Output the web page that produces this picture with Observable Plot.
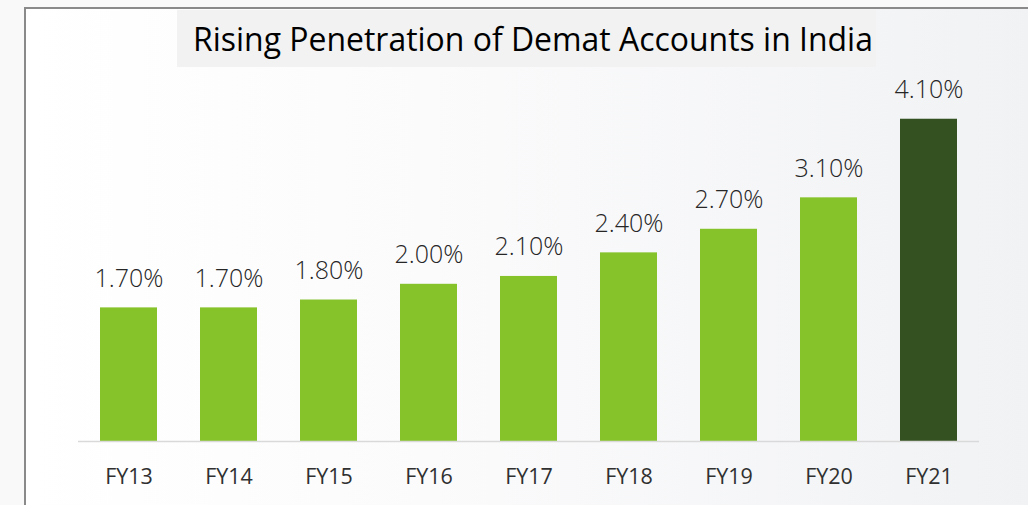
<!DOCTYPE html>
<html>
<head>
<meta charset="utf-8">
<script src="https://cdn.jsdelivr.net/npm/d3@7"></script>
<script src="https://cdn.jsdelivr.net/npm/@observablehq/plot@0.6"></script>
<style>
  html, body { margin: 0; padding: 0; }
  body { width: 1028px; height: 505px; overflow: hidden; background: #f9f9f9; position: relative; font-family: "Open Sans", sans-serif; }
  #frame { position: absolute; left: 24px; top: 7px; width: 1010px; height: 505px;
    border-left: 2px solid #8a8a8a; border-top: 2px solid #8a8a8a;
    background: linear-gradient(to right, #ffffff 0%, #fbfbfc 40%, #f1f2f4 100%); }
  #title { position: absolute; left: 177px; top: 10px; width: 699px; height: 57px; background: #f2f2f2;
    box-sizing: border-box; padding-left: 16px; line-height: 57px; color: #000; white-space: nowrap;
    font-family: "Open Sans", sans-serif; font-size: 30px; }
  #chart { position: absolute; left: 0; top: 0; }
</style>
</head>
<body>
<div id="frame"></div>
<div id="title">Rising Penetration of Demat Accounts in India</div>
<div id="chart"></div>
<script>
const categories = ["FY13", "FY14", "FY15", "FY16", "FY17", "FY18", "FY19", "FY20", "FY21"];
const values = [1.7, 1.7, 1.8, 2.0, 2.1, 2.4, 2.7, 3.1, 4.1];
const labels = ["1.70%", "1.70%", "1.80%", "2.00%", "2.10%", "2.40%", "2.70%", "3.10%", "4.10%"];
const highlight = ["FY21"];

const data = categories.map((c, i) => ({ cat: c, value: values[i], label: labels[i], hl: highlight.includes(c) }));

// fit title width
const t = document.getElementById("title");
const span = document.createElement("span");
span.textContent = t.textContent;
t.textContent = "";
t.appendChild(span);
let fs = 30;
span.style.fontSize = fs + "px";
const w = span.getBoundingClientRect().width;
fs = fs * 680 / w;
t.style.fontSize = fs + "px";
span.style.fontSize = fs + "px";

const chart = Plot.plot({
  width: 1028,
  height: 505,
  marginLeft: 78,
  marginRight: 49,
  marginTop: 48,
  marginBottom: 64,
  style: { background: "transparent", fontFamily: "'Open Sans', sans-serif", overflow: "visible" },
  x: { domain: categories, paddingInner: 0.43, paddingOuter: 0.215, label: null },
  y: { domain: [0, 5], axis: null },
  marks: [
    Plot.barY(data, { x: "cat", y: "value", fill: d => d.hl ? "#345221" : "#86c22a" }),
    Plot.ruleY([0], { stroke: "#d9d9d9", strokeWidth: 1.5 }),
    Plot.text(data, { x: "cat", y: "value", text: "label", lineAnchor: "bottom", dy: -21, fontSize: 25, fontWeight: 300, fill: "#262626" }),
    Plot.axisX({ tickSize: 0, tickPadding: 27, fontSize: 21.5, color: "#303030", label: null })
  ]
});
document.getElementById("chart").appendChild(chart);
</script>
</body>
</html>
